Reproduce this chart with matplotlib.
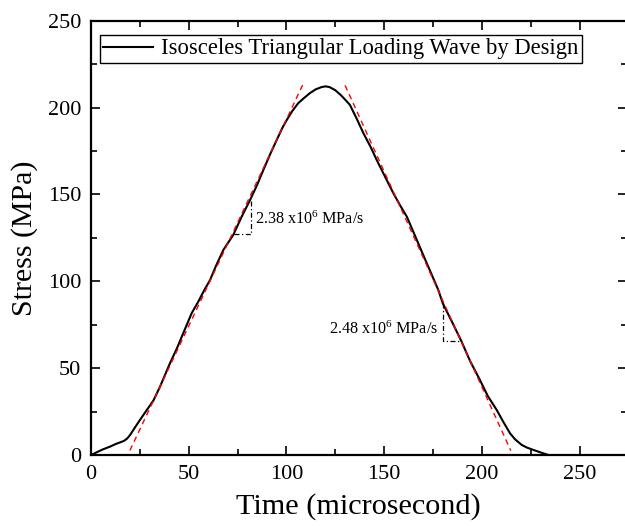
import matplotlib
matplotlib.use("Agg")
import matplotlib.pyplot as plt
from matplotlib.ticker import MultipleLocator

plt.rcParams['font.family'] = ['Liberation Serif', 'DejaVu Serif']
plt.rcParams['mathtext.fontset'] = 'custom'
plt.rcParams['mathtext.rm'] = 'Liberation Serif'
plt.rcParams['mathtext.it'] = 'Liberation Serif:italic'

# Measured stress wave
time_us = [0, 3, 6, 9.7, 13, 15, 17, 18.5, 20, 22, 25, 28, 32, 35.3, 40.4, 44, 47.2,
           51.5, 54.9, 58, 60.9, 64, 67.7, 72.8, 77, 81.4, 85, 88.2, 92, 95, 98, 100.2,
           103, 106, 109, 112, 115, 118, 120, 122, 125, 128, 130.5, 132.5, 136, 139.4,
           143, 146.2, 151.3, 154.7, 158, 161.6, 166.7, 171.8, 177.7, 180, 185, 189.4,
           194, 199, 203, 207.6, 211, 214.4, 217, 220.4, 223, 226.4, 230, 234]
stress_mpa = [0, 1.6, 3.2, 4.8, 6.5, 7.3, 8.2, 9.5, 11.5, 15, 20.1, 25, 31.5, 39.3, 52.8,
              61.5, 70.1, 81.6, 88.3, 95, 100.7, 109, 118, 126.7, 137, 146.8, 155.5, 164.1,
              174, 181.3, 188.5, 192.9, 198, 202.5, 205.5, 208.3, 210.5, 211.8, 212.2,
              211.8, 210, 207, 204, 201.5, 193.5, 185.2, 177.5, 169.8, 158.3, 150.7, 144,
              137.2, 123.8, 110.4, 95, 87.3, 76, 65.8, 54, 43.2, 34, 25.9, 19, 12.5, 9,
              5.8, 4.3, 2.9, 1.5, 0]

# Fitted linear slopes (red dashed)
rise_t = [19.9, 108.3]
rise_s = [2.6, 213.0]
fall_t = [130.0, 214.8]
fall_s = [212.8, 2.5]

# Slope triangles
tri1_t = [73.3, 81.7, 81.7]
tri1_s = [127.2, 127.2, 146.4]
tri2_t = [180.0, 180.0, 189.4]
tri2_s = [87.3, 65.8, 65.8]

slope_labels = [r"2.38 x10$^{6}$ MPa/s", r"2.48 x10$^{6}$ MPa/s"]
legend_label = "Isosceles Triangular Loading Wave by Design"

fig = plt.figure(figsize=(6.25, 5.26), dpi=100)
ax = fig.add_axes([91/625, 1-455/526, (626.5-91)/625, 434.3/526])

ax.plot(time_us, stress_mpa, color='black', lw=1.5, label=legend_label, zorder=3)
ax.plot(rise_t, rise_s, color='red', lw=1.0, ls=(0, (4, 3)), zorder=4)
ax.plot(fall_t, fall_s, color='red', lw=1.0, ls=(0, (4, 3)), zorder=4)
ax.plot(tri1_t, tri1_s, color='black', lw=0.9, ls='-.', dashes=(4, 2, 1, 2), zorder=2)
ax.plot(tri2_t, tri2_s, color='black', lw=0.9, ls='-.', dashes=(4, 2, 1, 2), zorder=2)

ax.text(83.9, 133.0, slope_labels[0], fontsize=11.6, ha='left', va='baseline')
ax.text(177.6, 69.7, slope_labels[1], fontsize=11.6, ha='right', va='baseline')

ax.set_xlim(0, 274)
ax.set_ylim(0, 250)
ax.xaxis.set_major_locator(MultipleLocator(50))
ax.xaxis.set_minor_locator(MultipleLocator(25))
ax.yaxis.set_major_locator(MultipleLocator(50))
ax.yaxis.set_minor_locator(MultipleLocator(25))
ax.tick_params(which='both', direction='in', top=True, right=True, width=1.2, labelsize=16)
ax.tick_params(which='major', length=6.5)
ax.tick_params(which='minor', length=4.3)
ax.tick_params(axis='y', pad=7)
ax.tick_params(axis='x', pad=7)
for sp in ax.spines.values():
    sp.set_linewidth(1.6)

ax.set_xlabel("Time (microsecond)", fontsize=21.8, labelpad=7)
ax.set_ylabel("Stress (MPa)", fontsize=21.5, labelpad=7)

leg = ax.legend(loc='upper left', bbox_to_anchor=(0.017, 0.967), fontsize=16.3,
                frameon=True, fancybox=False, edgecolor='black', framealpha=1,
                handlelength=2.2, handletextpad=0.35, borderpad=0.15, borderaxespad=0)
leg.get_frame().set_linewidth(1.0)

fig.savefig("out.png", dpi=100)
